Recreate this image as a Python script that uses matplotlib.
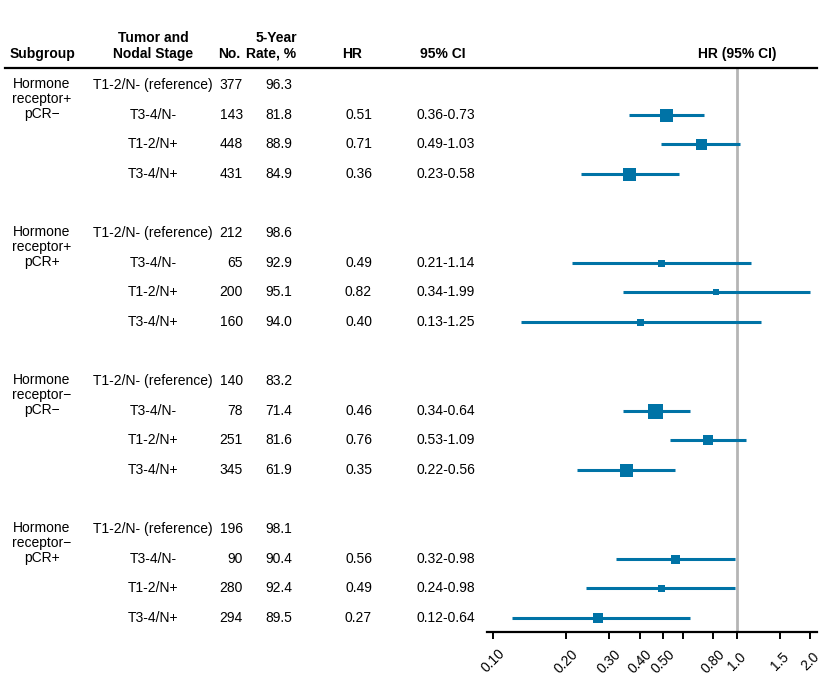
import matplotlib.pyplot as plt
import matplotlib.transforms as mtransforms
from matplotlib.lines import Line2D

plt.rcParams['font.family'] = ['Liberation Sans', 'DejaVu Sans']

# Dane
groups = ["Hormone\nreceptor+\npCR\u2212", "Hormone\nreceptor+\npCR+",
          "Hormone\nreceptor\u2212\npCR\u2212", "Hormone\nreceptor\u2212\npCR+"]
stages = ["T1-2/N- (reference)", "T3-4/N-", "T1-2/N+", "T3-4/N+"]
n_pts = [[377, 143, 448, 431], [212, 65, 200, 160], [140, 78, 251, 345], [196, 90, 280, 294]]
rates = [[96.3, 81.8, 88.9, 84.9], [98.6, 92.9, 95.1, 94.0],
         [83.2, 71.4, 81.6, 61.9], [98.1, 90.4, 92.4, 89.5]]
hr = [[0.51, 0.71, 0.36], [0.49, 0.82, 0.40], [0.46, 0.76, 0.35], [0.56, 0.49, 0.27]]
ci_lo = [[0.36, 0.49, 0.23], [0.21, 0.34, 0.13], [0.34, 0.53, 0.22], [0.32, 0.24, 0.12]]
ci_hi = [[0.73, 1.03, 0.58], [1.14, 1.99, 1.25], [0.64, 1.09, 0.56], [0.98, 0.98, 0.64]]
box_px = [[13, 11, 13], [7, 6, 7], [15, 10, 13], [9, 7, 10]]

ticks = [0.1, 0.2, 0.3, 0.4, 0.5, 0.6, 0.8, 1.0, 1.5, 2.0]
tick_labels = ["0.10", "0.20", "0.30", "0.40", "0.50", "", "0.80", "1.0", "1.5", "2.0"]

W, H = 826, 682
blue = '#0073a6'
fs = 10

fig = plt.figure(figsize=(W / 100, H / 100), dpi=100)
fx = lambda px: px / W
fy = lambda py: 1 - py / H

# panel z wykresem lesnym
ax = fig.add_axes([fx(487), fy(632), fx(817) - fx(487), fy(68) - fy(632)])
ax.set_xscale('log')
ax.set_xlim(0.0945, 2.13)
ax.set_ylim(18.48, -0.574)
ax.axvline(1.0, color='#b5b5b5', lw=2, zorder=1)

tr = mtransforms.blended_transform_factory(fig.transFigure, ax.transData)

for g in range(4):
    base = g * 5
    fig.text(fx(42), base - 0.27, groups[g], transform=tr, ha='center', va='top',
             fontsize=fs, linespacing=1.08)
    for i in range(4):
        r = base + i
        fig.text(fx(153), r, stages[i], transform=tr, ha='center', va='center', fontsize=fs)
        fig.text(fx(243), r, str(n_pts[g][i]), transform=tr, ha='right', va='center', fontsize=fs)
        fig.text(fx(292), r, f"{rates[g][i]:.1f}", transform=tr, ha='right', va='center', fontsize=fs)
        if i == 0:
            continue
        h, lo, hi = hr[g][i - 1], ci_lo[g][i - 1], ci_hi[g][i - 1]
        fig.text(fx(372), r, f"{h:.2f}", transform=tr, ha='right', va='center', fontsize=fs)
        fig.text(fx(475), r, f"{lo:.2f}-{hi:.2f}", transform=tr, ha='right', va='center', fontsize=fs)
        ax.plot([lo, hi], [r, r], color=blue, lw=2.2, solid_capstyle='butt', zorder=2)
        ax.plot([h], [r], marker='s', color=blue, markersize=box_px[g][i - 1] * 0.72,
                markeredgewidth=0, zorder=3)

# naglowki
fig.text(fx(10), fy(54), "Subgroup", ha='left', va='center', fontsize=fs, fontweight='bold')
fig.text(fx(153), fy(38), "Tumor and", ha='center', va='center', fontsize=fs, fontweight='bold')
fig.text(fx(153), fy(54), "Nodal Stage", ha='center', va='center', fontsize=fs, fontweight='bold')
fig.text(fx(229), fy(54), "No.", ha='center', va='center', fontsize=fs, fontweight='bold')
fig.text(fx(276), fy(38), "5-Year", ha='center', va='center', fontsize=fs, fontweight='bold')
fig.text(fx(271), fy(54), "Rate, %", ha='center', va='center', fontsize=fs, fontweight='bold')
fig.text(fx(352), fy(54), "HR", ha='center', va='center', fontsize=fs, fontweight='bold')
fig.text(fx(443), fy(54), "95% CI", ha='center', va='center', fontsize=fs, fontweight='bold')
fig.text(fx(737), fy(54), "HR (95% CI)", ha='center', va='center', fontsize=fs, fontweight='bold')
fig.add_artist(Line2D([fx(5), fx(817)], [fy(68), fy(68)], color='black', lw=1.6))

# osie
for s in ['top', 'right', 'left']:
    ax.spines[s].set_visible(False)
ax.spines['bottom'].set_linewidth(1.6)
ax.set_yticks([])
ax.set_xticks(ticks)
ax.set_xticks([], minor=True)
ax.set_xticklabels(tick_labels, rotation=45, ha='center', va='center',
                   rotation_mode='anchor', fontsize=10)
ax.tick_params(axis='x', length=5, width=1.4, pad=16)

fig.savefig('out.png', dpi=100)
